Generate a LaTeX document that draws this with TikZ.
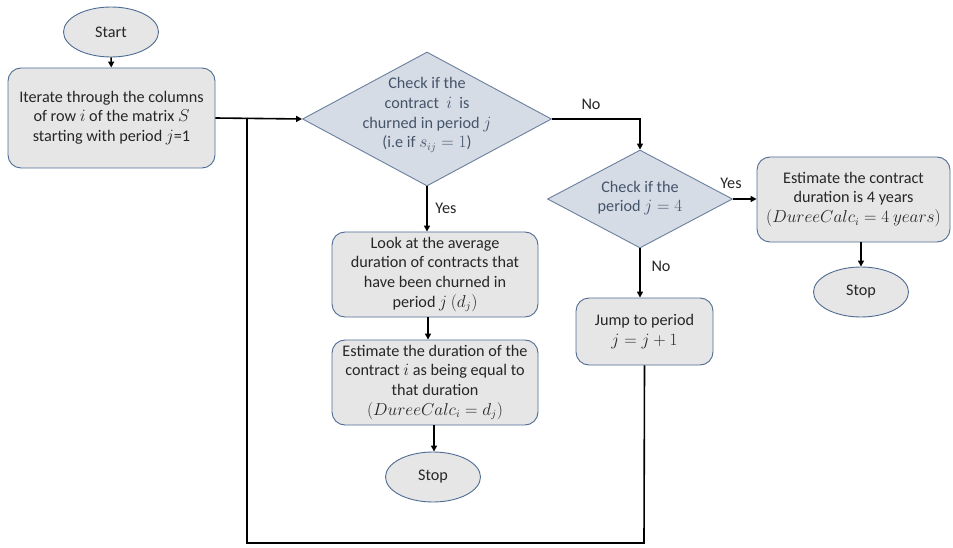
\documentclass[tikz,border=0pt]{standalone}
\usepackage{fontspec}
\setmainfont{Carlito}
\usetikzlibrary{shapes.geometric,arrows.meta}
\definecolor{boxfill}{HTML}{E7E6E6}
\definecolor{boxline}{HTML}{4E6C93}
\definecolor{decfill}{HTML}{D6DCE5}
\definecolor{decline}{HTML}{6A7F9E}
\definecolor{dectext}{HTML}{44546A}
\definecolor{bodytext}{HTML}{262626}
\tikzset{
  every node/.style={font=\fontsize{16.2}{19.6}\selectfont},
  procbox/.style={draw=boxline, fill=boxfill, line width=0.9pt, rounded corners=13pt,
    inner sep=0pt, align=center, text=bodytext},
  terminal/.style={draw=boxline, fill=boxfill, line width=0.9pt, ellipse,
    minimum width=95pt, minimum height=50pt, inner sep=0pt, text=bodytext},
  decision/.style={draw=decline, fill=decfill, line width=0.9pt, diamond,
    inner sep=0pt},
  dectxt/.style={align=center, text=dectext, inner sep=0pt},
  flow/.style={line width=1.6pt, -{Triangle[length=6pt,width=6pt]}},
  plainflow/.style={line width=1.6pt},
  lbl/.style={text=bodytext, inner sep=0pt}
}
\begin{document}
\begin{tikzpicture}[x=1pt,y=-1pt]
\useasboundingbox (0,0) rectangle (953,548);

% start and first step
\node[terminal] (start) at (111,32) {Start};
\node[procbox, minimum width=207pt, minimum height=100pt] (iter) at (111.5,118)
  {Iterate through the columns\\of row $i$ of the matrix $S$\\starting with period $j$=1};

% churn test
\node[decision, minimum width=249pt, minimum height=134pt] (d1) at (427,119) {};
\node[dectxt] (d1t) at (427,115)
  {Check if the\\contract~~$i$~~is\\churned in period $j$\\(i.e if $s_{ij}=1$)};

% churned branch
\node[procbox, minimum width=206pt, minimum height=85pt] (look) at (435,274.5)
  {Look at the average\\duration of contracts that\\have been churned in\\period $j$ $(d_j)$};
\node[procbox, minimum width=206pt, minimum height=85pt] (est) at (435,382.5)
  {Estimate the duration of the\\contract $i$ as being equal to\\that duration\\$(DureeCalc_i=d_j)$};
\node[terminal] (stopa) at (433,477) {Stop};

% last period test
\node[decision, minimum width=185pt, minimum height=98pt] (d2) at (640,199) {};
\node[dectxt] (d2t) at (640,198) {Check if the\\period $j=4$};

\node[procbox, minimum width=193pt, minimum height=85pt] (four) at (853.5,199.5)
  {Estimate the contract\\duration is 4 years\\$(DureeCalc_i=4\ years)$};
\node[terminal] (stopb) at (861,292) {Stop};

\node[procbox, minimum width=137pt, minimum height=67pt] (jump) at (644.5,331.5)
  {Jump to period\\$j=j+1$};

% connectors
\draw[flow] (start) -- (iter);
\draw[flow] (iter.east) -- (d1.west);
\coordinate (join) at (247,118);
\coordinate (loopL) at (247,543);
\coordinate (loopR) at (644,543);
\draw[plainflow] (jump.south) -- (loopR) -- (loopL) -- (join);

\draw[flow] (d1.east) -| (d2.north);
\node[lbl] (no1) at (591,104) {No};

\draw[flow] (d1.south) -- (d1.south |- look.north);
\node[lbl] (yes1) at (446,208) {Yes};
\draw[flow] (look.south -| 428,0) -- (est.north -| 428,0);
\draw[flow] (est.south -| 434,0) -- (stopa.north -| 434,0);

\draw[flow] (d2.east) -- (four.west |- d2.east);
\node[lbl] (yes2) at (731,183) {Yes};
\draw[flow] (four.south -| stopb.north) -- (stopb.north);

\draw[flow] (d2.south) -- (d2.south |- jump.north);
\node[lbl] (no2) at (661,266) {No};
\end{tikzpicture}
\end{document}
